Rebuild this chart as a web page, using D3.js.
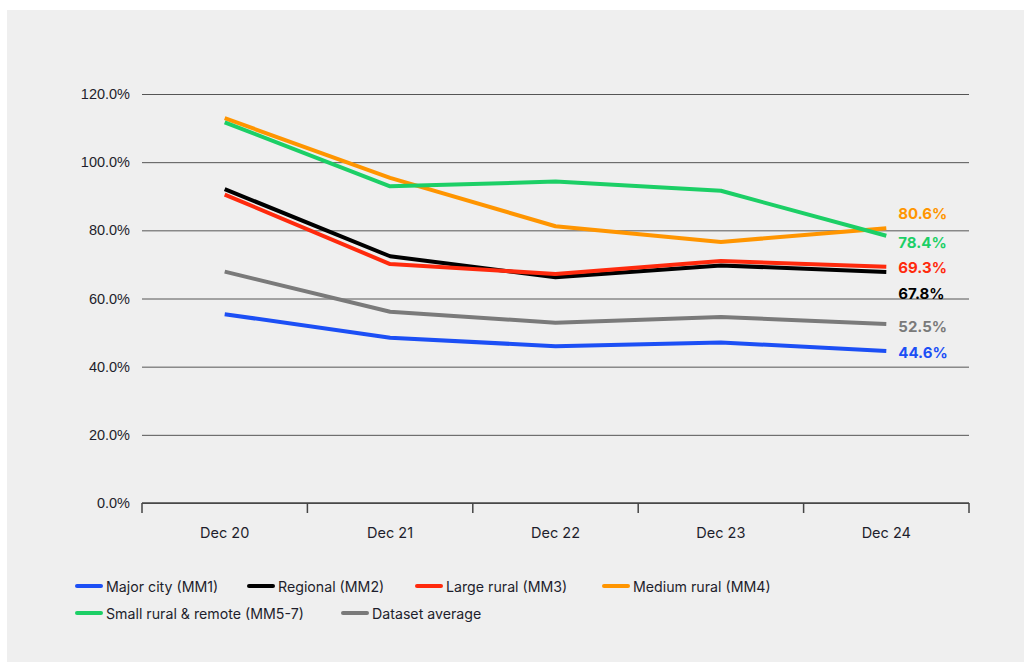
<!DOCTYPE html>
<html>
<head>
<meta charset="utf-8">
<script src="https://cdn.jsdelivr.net/npm/d3@7"></script>
<style>
  body { margin: 0; background: #fff; }
  svg { display: block; font-family: Inter, "Liberation Sans", sans-serif; }
</style>
</head>
<body>
<div id="chart"></div>
<script>
// Data
const periods = ["Dec 20", "Dec 21", "Dec 22", "Dec 23", "Dec 24"];
const seriesNames = ["Major city (MM1)", "Regional (MM2)", "Large rural (MM3)", "Medium rural (MM4)", "Small rural & remote (MM5-7)", "Dataset average"];
const majorCity = [55.4, 48.5, 46.0, 47.1, 44.6];
const regional = [92.1, 72.4, 66.2, 69.7, 67.8];
const largeRural = [90.5, 70.1, 67.2, 71.0, 69.3];
const mediumRural = [112.9, 95.4, 81.2, 76.6, 80.6];
const smallRural = [111.7, 92.9, 94.3, 91.6, 78.4];
const datasetAvg = [67.9, 56.1, 52.9, 54.6, 52.5];
const yTicks = [0, 20, 40, 60, 80, 100, 120];

const colors = ["#1c4ff5", "#000000", "#ff2a0d", "#ff9500", "#1ccf66", "#7a7a7a"];
const allValues = [majorCity, regional, largeRural, mediumRural, smallRural, datasetAvg];
const series = seriesNames.map((name, i) => ({ name, values: allValues[i], color: colors[i] }));

const W = 1024, H = 662;
const margin = { top: 94, right: 55, bottom: 159, left: 142 };
const width = W - margin.left - margin.right;
const height = H - margin.top - margin.bottom;

const svg = d3.select("#chart").append("svg")
  .attr("width", W)
  .attr("height", H);

// Panel background
svg.append("rect")
  .attr("x", 7).attr("y", 10)
  .attr("width", W - 7).attr("height", H - 10)
  .attr("fill", "#efefef");

const g = svg.append("g")
  .attr("transform", `translate(${margin.left},${margin.top})`);

const x = d3.scaleBand().domain(periods).range([0, width]);
const y = d3.scaleLinear().domain([0, 120]).range([height, 0]);

// Gridlines + y labels
g.append("g")
  .call(d3.axisLeft(y).tickValues(yTicks).tickSize(-width).tickFormat(d => d.toFixed(1) + "%"))
  .call(a => a.select(".domain").remove())
  .call(a => a.selectAll("line").attr("stroke", "#555").attr("stroke-width", 1))
  .call(a => a.selectAll("text")
    .attr("x", -12).attr("dy", "0.32em")
    .attr("fill", "#1e1e2c").style("font-size", "14.5px"));

// X axis with ticks at band boundaries
const xAxis = g.append("g").attr("transform", `translate(0,${height})`);
xAxis.append("line")
  .attr("x1", 0).attr("x2", width)
  .attr("stroke", "#444").attr("stroke-width", 1.5);
xAxis.selectAll("line.tick")
  .data(periods.concat(["end"]))
  .join("line")
  .attr("class", "tick")
  .attr("x1", (d, i) => i * x.step()).attr("x2", (d, i) => i * x.step())
  .attr("y1", 0).attr("y2", 10)
  .attr("stroke", "#444").attr("stroke-width", 1.5);
xAxis.selectAll("text")
  .data(periods)
  .join("text")
  .attr("x", d => x(d) + x.bandwidth() / 2)
  .attr("y", 35)
  .attr("text-anchor", "middle")
  .attr("fill", "#1e1e2c")
  .style("font-size", "14.5px")
  .text(d => d);

// Lines
const line = d3.line()
  .x((d, i) => x(periods[i]) + x.bandwidth() / 2)
  .y(d => y(d));

g.selectAll("path.series")
  .data(series)
  .join("path")
  .attr("class", "series")
  .attr("fill", "none")
  .attr("stroke", d => d.color)
  .attr("stroke-width", 4)
  .attr("stroke-linejoin", "round")
  .attr("d", d => line(d.values));

// End labels (nudged to avoid overlap)
const labelOffsets = { "Medium rural (MM4)": -15, "Small rural & remote (MM5-7)": 7, "Large rural (MM3)": 1, "Regional (MM2)": 22, "Dataset average": 3, "Major city (MM1)": 2 };
g.selectAll("text.endlabel")
  .data(series)
  .join("text")
  .attr("class", "endlabel")
  .attr("x", x(periods[4]) + x.bandwidth() / 2 + 12)
  .attr("y", d => y(d.values[4]) + labelOffsets[d.name])
  .attr("dy", "0.35em")
  .attr("fill", d => d.color)
  .style("font-size", "15px")
  .style("font-weight", "700")
  .text(d => d.values[4].toFixed(1) + "%");

// Legend
const legendPos = [[77, 586], [249, 586], [417, 586], [604, 586], [77, 613], [343, 613]];
const legend = svg.selectAll("g.legend")
  .data(series)
  .join("g")
  .attr("class", "legend")
  .attr("transform", (d, i) => `translate(${legendPos[i][0]},${legendPos[i][1]})`);
legend.append("line")
  .attr("x1", 0).attr("x2", 24)
  .attr("stroke", d => d.color)
  .attr("stroke-width", 4)
  .attr("stroke-linecap", "round");
legend.append("text")
  .attr("x", 29)
  .attr("dy", "0.4em")
  .attr("fill", "#1e1e2c")
  .style("font-size", "14.2px")
  .text(d => d.name);
</script>
</body>
</html>
